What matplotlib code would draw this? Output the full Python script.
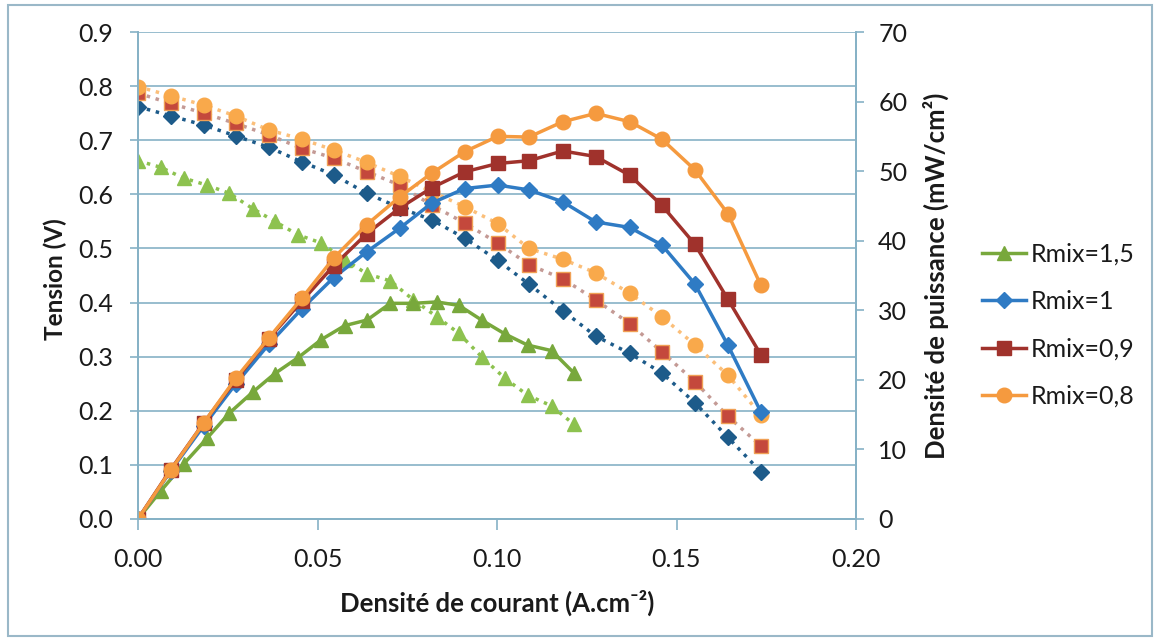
import matplotlib
matplotlib.use("Agg")
import matplotlib.pyplot as plt
from matplotlib.patches import Rectangle

plt.rcParams['font.family'] = ['Lato', 'DejaVu Sans']

# densité de courant (A/cm2)
j_main = [0, 0.0091, 0.0183, 0.0272, 0.0364, 0.0456, 0.0545, 0.0637, 0.0729, 0.0818,
          0.0910, 0.1002, 0.1089, 0.1183, 0.1275, 0.1370, 0.1459, 0.1551, 0.1643, 0.1735]
j_r15 = [0, 0.0063, 0.0127, 0.0192, 0.0254, 0.0321, 0.0381, 0.0446, 0.0511, 0.0576,
         0.0638, 0.0703, 0.0767, 0.0832, 0.0894, 0.0957, 0.1022, 0.1085, 0.1152, 0.1214]

# tension (V)
v_r15 = [0.662, 0.650, 0.630, 0.617, 0.602, 0.573, 0.550, 0.525, 0.510, 0.479,
         0.453, 0.440, 0.405, 0.374, 0.343, 0.300, 0.260, 0.229, 0.209, 0.175]
v_r1 = [0.762, 0.745, 0.728, 0.708, 0.687, 0.660, 0.636, 0.602, 0.575, 0.553,
        0.519, 0.478, 0.434, 0.385, 0.338, 0.306, 0.270, 0.215, 0.151, 0.087]
v_r09 = [0.787, 0.768, 0.750, 0.731, 0.710, 0.685, 0.667, 0.642, 0.617, 0.580,
         0.547, 0.510, 0.470, 0.444, 0.405, 0.361, 0.309, 0.254, 0.190, 0.135]
v_r08 = [0.799, 0.782, 0.765, 0.745, 0.719, 0.702, 0.682, 0.659, 0.633, 0.605,
         0.577, 0.546, 0.500, 0.480, 0.455, 0.417, 0.374, 0.322, 0.266, 0.192]

# densité de puissance (mW/cm2)
p_r15 = [0, 4.0, 7.9, 11.6, 15.2, 18.3, 20.9, 23.2, 25.8, 27.8,
         28.6, 31.0, 31.0, 31.2, 30.7, 28.6, 26.6, 25.0, 24.2, 21.0]
p_r1 = [0, 6.9, 13.4, 19.4, 25.1, 30.2, 34.7, 38.4, 41.8, 45.4,
        47.5, 48.0, 47.3, 45.6, 42.7, 41.9, 39.4, 33.8, 25.0, 15.4]
p_r09 = [0, 7.1, 13.8, 20.0, 25.9, 31.3, 36.4, 41.0, 44.7, 47.6,
         49.9, 51.1, 51.5, 52.9, 52.1, 49.4, 45.1, 39.5, 31.6, 23.6]
p_r08 = [0, 7.0, 13.8, 20.2, 26.0, 31.7, 37.5, 42.3, 46.3, 49.7,
         52.8, 55.0, 54.9, 57.1, 58.3, 57.1, 54.6, 50.2, 43.9, 33.6]

labels = ["Rmix=1,5", "Rmix=1", "Rmix=0,9", "Rmix=0,8"]

W, H = 1157, 639
axis_col = "#86b2c6"
txt_col = "#1a1a1a"

fig = plt.figure(figsize=(W / 100, H / 100), dpi=100)
fig.patches.append(Rectangle((8 / W, 3 / H), (1152 - 8) / W, (634 - 3) / H,
                             transform=fig.transFigure, fill=False,
                             edgecolor="#9ab8c8", linewidth=1.5))

ax = fig.add_axes([138 / W, 1 - 519 / H, (856 - 138) / W, (519 - 32) / H])
ax2 = ax.twinx()

# courbes de tension (pointillés)
ax.plot(j_r15, v_r15, ls=":", lw=2.5, color="#8dc24f", marker="^", ms=10.5,
        mfc="#8dc24f", mec="#8dc24f", zorder=3)
ax.plot(j_main, v_r1, ls=":", lw=2.5, color="#1d5b8a", marker="D", ms=8.5,
        mfc="#1d5b8a", mec="#1d5b8a", zorder=3)
ax.plot(j_main, v_r09, ls=":", lw=2.5, color="#c49a95", marker="s", ms=10.5,
        mfc="#c4483c", mec="#f0a055", zorder=3)
ax.plot(j_main, v_r08, ls=":", lw=2.5, color="#fbbf7a", marker="o", ms=10.5,
        mfc="#f9a94b", mec="#f9a94b", zorder=3)

# courbes de puissance (traits pleins)
h1, = ax2.plot(j_r15, p_r15, "-", lw=2.5, color="#78a83c", marker="^", ms=10.5)
h2, = ax2.plot(j_main, p_r1, "-", lw=2.5, color="#2f7bc4", marker="D", ms=8.5)
h3, = ax2.plot(j_main, p_r09, "-", lw=2.5, color="#a0322c", marker="s", ms=10.5)
h4, = ax2.plot(j_main, p_r08, "-", lw=2.5, color="#f59a3f", marker="o", ms=10.5)

ax.set_xlim(0, 0.2)
ax.set_ylim(0, 0.9)
ax2.set_ylim(0, 70)
ax.set_xticks([0, 0.05, 0.10, 0.15, 0.20])
ax.set_xticklabels(["0.00", "0.05", "0.10", "0.15", "0.20"])
ax.set_yticks([i / 10 for i in range(10)])
ax.set_yticklabels([f"{i / 10:.1f}" for i in range(10)])
ax2.set_yticks(range(0, 71, 10))

ax.grid(axis="y", color=axis_col, lw=1.2)
ax.set_axisbelow(True)
for a in (ax, ax2):
    for s in a.spines.values():
        s.set_color(axis_col)
        s.set_linewidth(1.3)
    a.spines["top"].set_visible(False)
ax.tick_params(axis="x", length=8, width=1.2, color=axis_col, pad=13,
               labelsize=18, labelcolor=txt_col)
ax.tick_params(axis="y", length=6, width=1.2, color=axis_col, pad=12,
               labelsize=18, labelcolor=txt_col)
ax2.tick_params(axis="y", length=6, width=1.2, color=axis_col, pad=10,
                labelsize=18, labelcolor=txt_col)

fig.text(497 / W, 1 - 603 / H, "Densité de courant (A.cm⁻²)", ha="center",
         va="center", fontsize=18.5, fontweight="bold", color=txt_col)
fig.text(55 / W, 1 - 279 / H, "Tension (V)", ha="center", va="center",
         rotation=90, fontsize=17.5, fontweight="bold", color=txt_col)
fig.text(936 / W, 1 - 276 / H, "Densité de puissance (mW/cm²)", ha="center",
         va="center", rotation=90, fontsize=18.5, fontweight="bold", color=txt_col)

fig.legend([h1, h2, h3, h4], labels, loc="upper left",
           bbox_to_anchor=(982 / W, 1 - 243 / H), frameon=False,
           fontsize=18, handlelength=1.75, handletextpad=0.2,
           labelspacing=0.97, borderaxespad=0, borderpad=0,
           labelcolor=txt_col)

fig.savefig("out.png", dpi=100)
